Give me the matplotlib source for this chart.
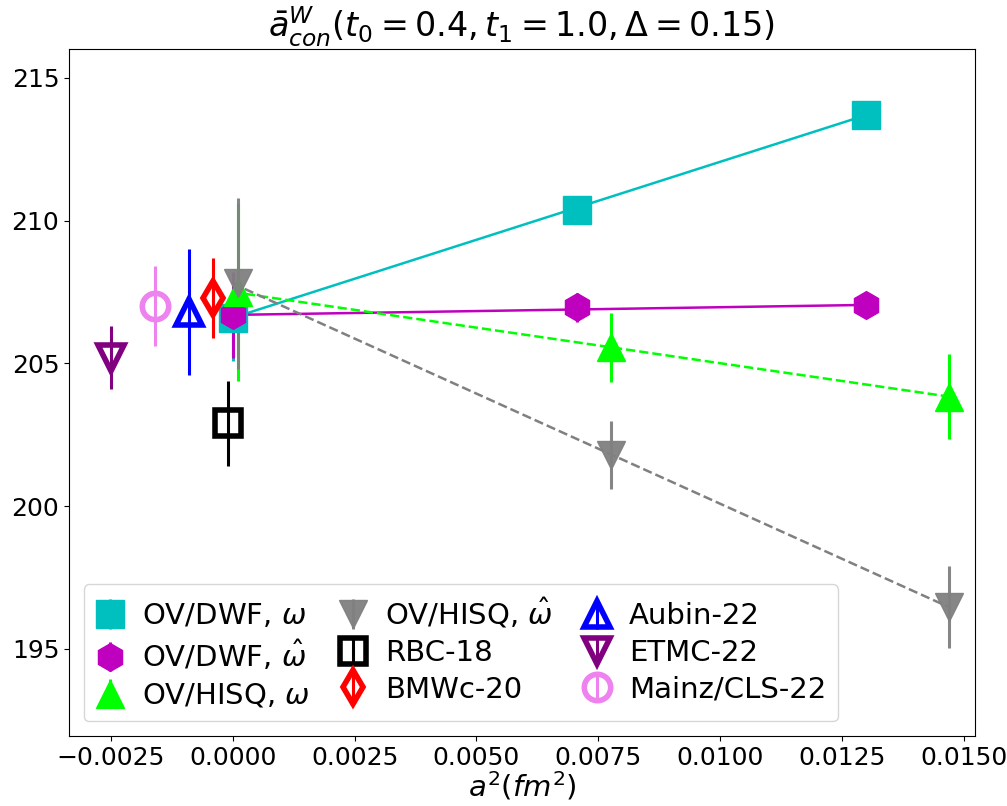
import matplotlib
matplotlib.use('Agg')
import matplotlib.pyplot as plt

# Lattice data (a^2 in fm^2)
a2_dwf = [0.0, 0.00707, 0.0130]
dwf_w = [206.6, 210.37, 213.7]
dwf_w_err = [1.5, 0.35, 0.35]
dwf_wh = [206.7, 206.96, 207.05]
dwf_wh_err = [1.5, 0.5, 0.4]

a2_hisq = [0.0001, 0.00777, 0.01469]
hisq_w = [207.5, 205.56, 203.84]
hisq_w_err = [3.1, 1.2, 1.5]
hisq_wh = [207.8, 201.8, 196.47]
hisq_wh_err = [3.0, 1.2, 1.45]

# Other collaborations
others = ['RBC-18', 'BMWc-20', 'Aubin-22', 'ETMC-22', 'Mainz/CLS-22']
others_x = [-0.0001, -0.0004, -0.0009, -0.0025, -0.0016]
others_y = [202.9, 207.3, 206.8, 205.2, 207.0]
others_err = [1.5, 1.4, 2.2, 1.1, 1.4]
others_col = ['k', 'r', 'b', 'purple', 'violet']
others_mk = ['s', 'd', '^', 'v', 'o']

fig = plt.figure(figsize=(10.07, 8.06), dpi=100)
ax = fig.add_axes([0.0685, 0.0868, 0.8997, 0.853])

# fit lines: extrapolated point -> coarsest
ax.plot([a2_dwf[0], a2_dwf[-1]], [dwf_w[0], dwf_w[-1]], '-', color='c', lw=1.8)
ax.plot([a2_dwf[0], a2_dwf[-1]], [dwf_wh[0], dwf_wh[-1]], '-', color='m', lw=1.8)
ax.plot([0.0, a2_hisq[-1]], [hisq_w[0], hisq_w[-1]], '--', color='lime', lw=1.8)
ax.plot([0.0, a2_hisq[-1]], [hisq_wh[0], hisq_wh[-1]], '--', color='gray', lw=1.8)

h = []
h.append(ax.errorbar(a2_dwf, dwf_w, yerr=dwf_w_err, fmt='s', color='c',
                     ms=20, elinewidth=2.2, label=r'OV/DWF, $\omega$'))
h.append(ax.errorbar(a2_dwf, dwf_wh, yerr=dwf_wh_err, fmt='h', color='m',
                     ms=20, elinewidth=2.2, label=r'OV/DWF, $\hat{\omega}$'))
h.append(ax.errorbar(a2_hisq, hisq_w, yerr=hisq_w_err, fmt='^', color='lime',
                     ms=20, elinewidth=2.2, label=r'OV/HISQ, $\omega$'))
h.append(ax.errorbar(a2_hisq, hisq_wh, yerr=hisq_wh_err, fmt='v', color='gray',
                     ms=20, elinewidth=2.2, alpha=0.95, label=r'OV/HISQ, $\hat{\omega}$'))

for name, x, y, e, c, mk in zip(others, others_x, others_y, others_err, others_col, others_mk):
    h.append(ax.errorbar([x], [y], yerr=[e], fmt=mk, color=c, mfc='none', mec=c,
                         mew=4, ms=19 if mk != 'd' else 17, elinewidth=2.2, label=name))

ax.set_xlim(-0.00336, 0.01523)
ax.set_ylim(191.95, 216.03)
ax.set_xticks([-0.0025, 0.0, 0.0025, 0.005, 0.0075, 0.01, 0.0125, 0.015])
ax.set_yticks([195, 200, 205, 210, 215])
ax.tick_params(labelsize=18)
ax.set_xlabel(r'$a^2(fm^2)$', fontsize=21, labelpad=0)
ax.set_title(r'$\bar{a}^W_{con}(t_0=0.4, t_1=1.0, \Delta=0.15)$', fontsize=24, pad=4)

ax.legend(handles=h, ncol=3, loc='lower left', fontsize=21,
          handlelength=1.0, handletextpad=0.6, columnspacing=1.0,
          borderaxespad=0.5, labelspacing=0.3)

fig.savefig('out.png', dpi=100)
